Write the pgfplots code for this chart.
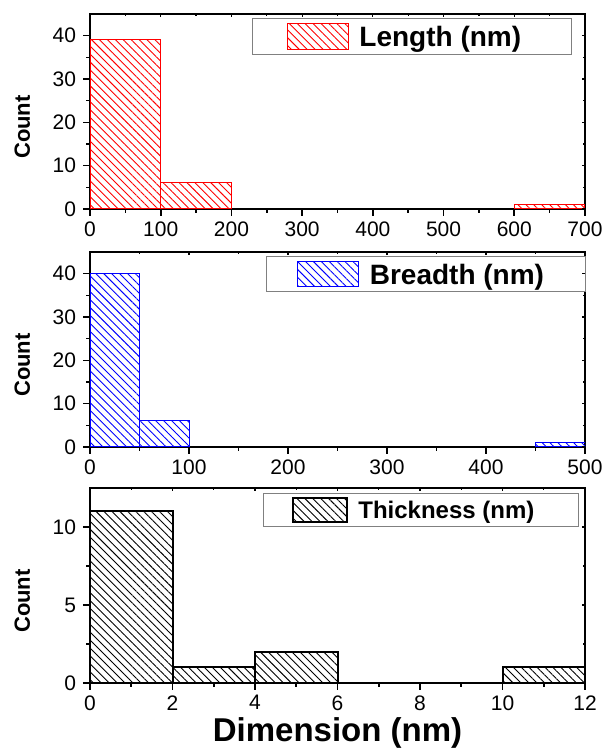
\documentclass[border=0pt]{standalone}
\usepackage{fontspec}
\setmainfont{Liberation Sans}
\usepackage{pgfplots}
\pgfplotsset{compat=1.18}
\usetikzlibrary{patterns.meta}

\pgfplotsset{
  panel/.style={
    scale only axis, width=247.5pt, height=97.5pt, anchor=south west,
    axis line style={line width=0.9pt},
    tick pos=left, tick align=outside,
    major tick length=3.5pt, minor tick length=1.8pt,
    tick style={black, line width=0.8pt},
    minor x tick num=1, minor y tick num=1,
    ymin=0,
    /pgf/number format/assume math mode=true,
    ticklabel style={font=\fontsize{10.5}{12}\selectfont},
    xticklabel style={inner sep=1pt, yshift=-1.5pt},
    ylabel={Count},
    every axis y label/.style={at={(axis description cs:-0.137,0.42)}, rotate=90,
      anchor=center, font=\bfseries\fontsize{11}{13}\selectfont},
    legend style={anchor=north west, draw=gray, line width=0.6pt,
      inner sep=0pt, column sep=0pt,
      nodes={inner sep=0pt, text depth=0pt},
      cells={anchor=center}},
  },
  % small inward ticks on the top and right edges
  frameticks/.style={
    scale only axis, width=247.5pt, height=97.5pt, anchor=south west,
    axis line style={draw=none},
    tick pos=right, tick align=inside,
    major tick length=1.6pt, minor tick length=1pt,
    tick style={black, line width=0.6pt},
    minor x tick num=1, minor y tick num=1,
    xticklabels={}, yticklabels={}, ymin=0,
  },
  hatch/.style={pattern={Lines[angle=-45,distance=2.8pt,line width=0.45pt]}, pattern color=#1},
  % legend swatches: invisible padding points plus hatched rectangle
  lenimg/.style={legend image code/.code={
    \path (-17.5pt,-8.75pt) (35.5pt,8.75pt);
    \draw[##1] (0pt,-6.5pt) rectangle (30.5pt,6.5pt);}},
  brdimg/.style={legend image code/.code={
    \path (-15pt,-8.5pt) (36pt,8.5pt);
    \draw[##1] (0pt,-6.25pt) rectangle (30.5pt,6.25pt);}},
  thkimg/.style={legend image code/.code={
    \path (-14.5pt,-7.75pt) (32pt,7.75pt);
    \draw[##1] (0pt,-6pt) rectangle (27pt,6pt);}},
}

\begin{document}
\begin{tikzpicture}
\useasboundingbox (0,0) rectangle (303.5pt,374pt);

% ---------- Length ----------
\begin{axis}[panel, at={(45pt,269.5pt)},
  xmin=0, xmax=700, xtick={0,100,...,700},
  ymax=45, ytick={0,10,20,30,40},
  legend style={at={(axis description cs:0.327,0.979)},
    font=\bfseries\fontsize{14}{16}\selectfont}]
\addplot[ybar, bar width=100, bar shift=0pt, draw=red, line width=0.5pt, hatch=red, lenimg]
  coordinates {(50,39) (150,6) (650,1)};
\addlegendentry{\makebox[106pt][l]{Length (nm)}}
\end{axis}
\begin{axis}[frameticks, at={(45pt,269.5pt)},
  xmin=0, xmax=700, xtick={0,100,...,700}, ymax=45, ytick={0,10,20,30,40}]
\end{axis}

% ---------- Breadth ----------
\begin{axis}[panel, at={(45pt,150.5pt)},
  xmin=0, xmax=500, xtick={0,100,...,500},
  ymax=45, ytick={0,10,20,30,40},
  legend style={at={(axis description cs:0.356,0.979)},
    font=\bfseries\fontsize{14}{16}\selectfont}]
\addplot[ybar, bar width=50, bar shift=0pt, draw=blue, line width=0.5pt, hatch=blue, brdimg]
  coordinates {(25,40) (75,6) (475,1)};
\addlegendentry{\makebox[108pt][l]{Breadth (nm)}}
\end{axis}
\begin{axis}[frameticks, at={(45pt,150.5pt)},
  xmin=0, xmax=500, xtick={0,100,...,500}, ymax=45, ytick={0,10,20,30,40}]
\end{axis}

% ---------- Thickness ----------
\begin{axis}[panel, at={(45pt,32.5pt)},
  xmin=0, xmax=12, xtick={0,2,...,12},
  ymax=12.5, ytick={0,5,10},
  xlabel={Dimension (nm)},
  every axis x label/.style={at={(axis description cs:0.5,-0.258)}, anchor=center,
    inner sep=0pt, font=\bfseries\fontsize{16.5}{19}\selectfont},
  legend style={at={(axis description cs:0.349,0.974)},
    font=\bfseries\fontsize{12}{14}\selectfont}]
\addplot[ybar, bar width=2, bar shift=0pt, draw=black, line width=1pt, hatch=black, thkimg]
  coordinates {(1,11) (3,1) (5,2) (11,1)};
\addlegendentry{\makebox[110pt][l]{Thickness (nm)}}
\end{axis}
\begin{axis}[frameticks, at={(45pt,32.5pt)},
  xmin=0, xmax=12, xtick={0,2,...,12}, ymax=12.5, ytick={0,5,10}]
\end{axis}
\end{tikzpicture}
\end{document}
